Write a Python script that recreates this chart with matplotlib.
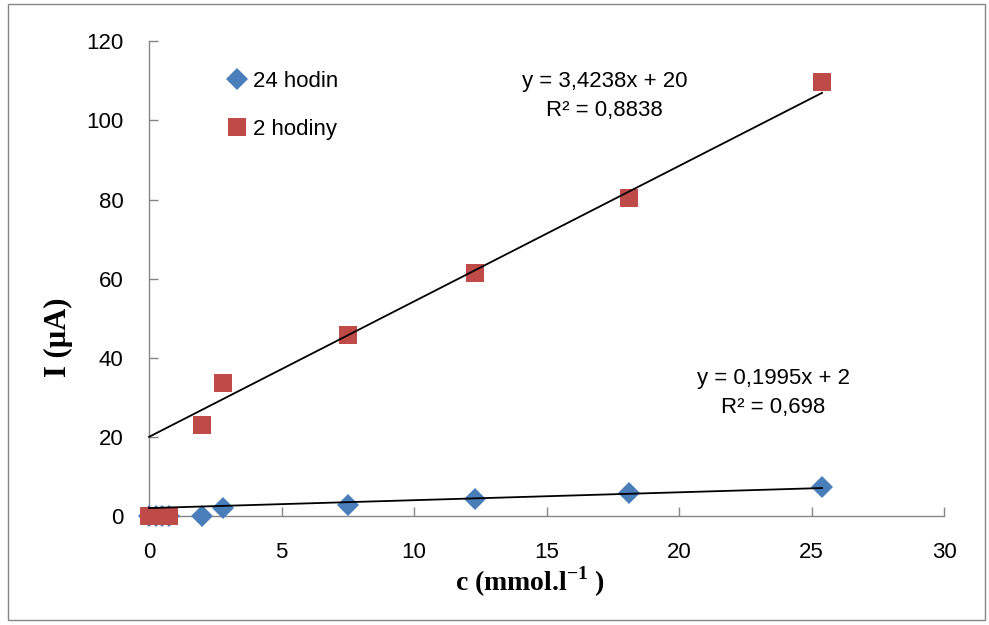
import numpy as np
import matplotlib.pyplot as plt
from matplotlib.patches import Rectangle

# data
c_24 = [0.0, 0.25, 0.5, 0.75, 2.0, 2.8, 7.5, 12.3, 18.1, 25.4]
i_24 = [0.0, 0.0, 0.0, 0.0, 0.0, 2.0, 2.9, 4.4, 5.9, 7.3]
c_2 = [0.0, 0.25, 0.5, 0.75, 2.0, 2.8, 7.5, 12.3, 18.1, 25.4]
i_2 = [0.0, 0.0, 0.0, 0.0, 23.0, 33.5, 45.7, 61.5, 80.4, 109.6]
fit_24 = (0.1995, 2.0)
fit_2 = (3.4238, 20.0)

tick_font = 'Liberation Sans'
label_font = 'Liberation Serif'
plt.rcParams['mathtext.fontset'] = 'custom'
plt.rcParams['mathtext.rm'] = 'Liberation Serif'
plt.rcParams['mathtext.bf'] = 'Liberation Serif:bold'

fig = plt.figure(figsize=(9.89, 6.25), dpi=100)
ax = fig.add_axes([0.1507, 0.1744, 0.8038, 0.7596])

ax.plot(c_24, i_24, 'D', color='#4a7ebb', markersize=11, markeredgewidth=0,
        label='24 hodin', zorder=3)
ax.plot(c_2, i_2, 's', color='#be4b48', markersize=13, markeredgewidth=0,
        label='2 hodiny', zorder=3)

xs = np.array([0, max(c_2)])
ax.plot(xs, fit_2[0] * xs + fit_2[1], color='black', lw=1.3, zorder=4)
ax.plot(xs, fit_24[0] * xs + fit_24[1], color='black', lw=1.3, zorder=4)

ax.text(17.2, 106.1, 'y = 3,4238x + 20\nR² = 0,8838', ha='center', va='center',
        fontsize=16, family=tick_font, linespacing=1.5)
ax.text(23.55, 31.2, 'y = 0,1995x + 2\nR² = 0,698', ha='center', va='center',
        fontsize=16, family=tick_font, linespacing=1.5)

ax.set_xlim(0, 30)
ax.set_ylim(0, 120)
ax.set_xticks(range(0, 31, 5))
ax.set_yticks(range(0, 121, 20))
ax.tick_params(labelsize=16, color='#868686', length=6.5, width=1.0,
               direction='in', pad=18.5)
for lbl in ax.get_xticklabels() + ax.get_yticklabels():
    lbl.set_family(tick_font)

for s in ['top', 'right']:
    ax.spines[s].set_visible(False)
for s in ['left', 'bottom']:
    ax.spines[s].set_color('#868686')
    ax.spines[s].set_linewidth(1.0)
for line in ax.lines:
    line.set_clip_on(False)

ax.set_xlabel('c (mmol.l$^{\\mathbf{-1}}$ )', fontsize=20, fontweight='bold',
              family=label_font)
ax.xaxis.set_label_coords(0.479, -0.103)
ax.set_ylabel('I (µA)', fontsize=22, fontweight='bold', family=label_font)
ax.yaxis.set_label_coords(-0.0956, 0.377)

leg = ax.legend(loc='upper left', bbox_to_anchor=(0.08, 0.956), frameon=False,
                prop={'family': tick_font, 'size': 16}, handletextpad=0.0,
                labelspacing=1.22, handlelength=1.4, borderaxespad=0)

fig.patches.append(Rectangle((0.008, 0.008), 0.988, 0.985, transform=fig.transFigure,
                             fill=False, edgecolor='#868686', lw=1.0))

fig.savefig('out.png', dpi=100)
